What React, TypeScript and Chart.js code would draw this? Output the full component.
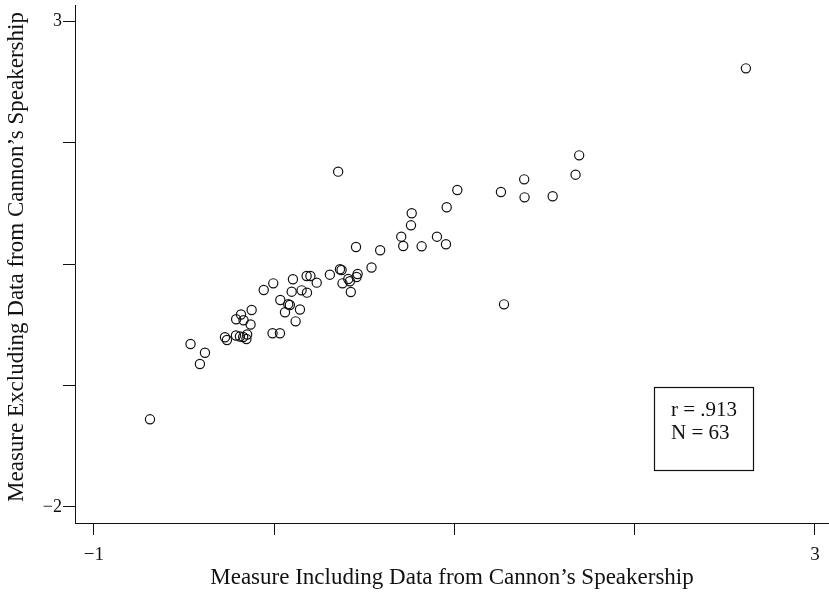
import React, { useEffect, useRef } from 'react';
import { Chart, registerables } from 'chart.js';

Chart.register(...registerables);

// Data
const xValues = [
  -0.689, -0.464, -0.384, -0.412, -0.273, -0.262, -0.212, -0.190, -0.172, -0.150,
  -0.154, -0.211, -0.184, -0.170, -0.131, -0.125, -0.009, 0.032, -0.058, -0.005,
  0.034, 0.060, 0.078, 0.087, 0.143, 0.119, 0.097, 0.104, 0.152, 0.182,
  0.180, 0.201, 0.236, 0.309, 0.365, 0.374, 0.411, 0.379, 0.420, 0.425,
  0.463, 0.457, 0.540, 0.355, 0.454, 0.588, 0.705, 0.716, 0.759, 0.763,
  0.818, 0.903, 0.953, 0.957, 1.016, 1.258, 1.387, 1.389, 1.545, 1.672,
  1.692, 1.275, 2.617,
];
const yValues = [
  -1.098, -0.323, -0.413, -0.529, -0.254, -0.282, -0.236, -0.246, -0.251, -0.225,
  -0.272, -0.069, -0.020, -0.079, -0.122, 0.027, -0.213, -0.213, 0.233, 0.301,
  0.130, 0.004, 0.086, 0.078, 0.032, -0.090, 0.215, 0.343, 0.229, 0.205,
  0.377, 0.377, 0.308, 0.390, 0.446, 0.438, 0.346, 0.301, 0.323, 0.212,
  0.397, 0.366, 0.464, 1.450, 0.675, 0.641, 0.781, 0.685, 0.898, 1.022,
  0.682, 0.781, 0.703, 1.084, 1.261, 1.241, 1.371, 1.186, 1.197, 1.419,
  1.618, 0.085, 2.513,
];

const xTicks = [-1, 0, 1, 2, 3];
const xTickLabels = ['\u22121', '', '', '', '3'];
const yTicks = [3, 1.75, 0.5, -0.75, -2];
const yTickLabels = ['3', '', '', '', '\u22122'];

const xTitle = 'Measure Including Data from Cannon\u2019s Speakership';
const yTitle = 'Measure Excluding Data from Cannon\u2019s Speakership';
const statLines = ['r = .913', 'N = 63'];

// axis ranges and annotation placement
const X_MIN = -1.105;
const X_MAX = 3.078;
const Y_MIN = -2.165;
const Y_MAX = 3.165;
const STAT_BOX_X = [2.107, 2.656];
const STAT_BOX_Y = [-0.765, -1.619];

const SERIF = '"Liberation Serif", "Times New Roman", Times, serif';
const INK = '#111';

function labelFor(ticks: number[], labels: string[], v: number): string {
  const i = ticks.findIndex((t) => Math.abs(t - v) < 1e-6);
  return i >= 0 ? labels[i] : '';
}

const annotationPlugin = {
  id: 'annotations',
  afterDraw(chart: any) {
    const { ctx, scales, chartArea } = chart;
    const x = scales.x;
    const y = scales.y;
    // y-axis title
    ctx.save();
    ctx.fillStyle = INK;
    ctx.font = `23px ${SERIF}`;
    ctx.textAlign = 'center';
    ctx.textBaseline = 'middle';
    ctx.translate(16.5, (chartArea.top + chartArea.bottom) / 2 - 7);
    ctx.rotate(-Math.PI / 2);
    ctx.fillText(yTitle, 0, 0);
    ctx.restore();

    // statistics box
    const l = x.getPixelForValue(STAT_BOX_X[0]);
    const r = x.getPixelForValue(STAT_BOX_X[1]);
    const t = y.getPixelForValue(STAT_BOX_Y[0]);
    const b = y.getPixelForValue(STAT_BOX_Y[1]);
    ctx.save();
    ctx.strokeStyle = INK;
    ctx.lineWidth = 1.2;
    ctx.strokeRect(Math.round(l) + 0.5, Math.round(t) + 0.5, Math.round(r - l), Math.round(b - t));
    ctx.fillStyle = INK;
    ctx.font = `21px ${SERIF}`;
    ctx.textAlign = 'left';
    ctx.textBaseline = 'middle';
    statLines.forEach((s, i) => {
      ctx.fillText(s, l + 17, t + 24 + i * 23);
    });
    ctx.restore();
  },
};

export default function App() {
  const canvasRef = useRef<HTMLCanvasElement | null>(null);

  useEffect(() => {
    document.body.style.margin = '0';
    const canvas = canvasRef.current;
    if (!canvas) return;
    const chart = new Chart(canvas, {
      type: 'scatter',
      data: {
        datasets: [
          {
            data: xValues.map((v, i) => ({ x: v, y: yValues[i] })),
            pointStyle: 'circle',
            pointRadius: 4.6,
            pointBorderWidth: 1.2,
            borderColor: INK,
            backgroundColor: 'rgba(0,0,0,0)',
            pointBackgroundColor: 'rgba(0,0,0,0)',
            pointBorderColor: INK,
          } as any,
        ],
      },
      options: {
        animation: false,
        responsive: false,
        layout: { autoPadding: false, padding: { top: 5, right: 0, left: 0, bottom: 0 } },
        plugins: {
          legend: { display: false },
          tooltip: { enabled: false },
        },
        scales: {
          x: {
            type: 'linear',
            min: X_MIN,
            max: X_MAX,
            afterBuildTicks: (s: any) => {
              s.ticks = xTicks.map((v) => ({ value: v }));
            },
            afterFit: (s: any) => {
              s.height = 69;
              s.paddingRight = 0;
              s.paddingLeft = 0;
            },
            ticks: {
              autoSkip: false,
              maxRotation: 0,
              padding: 0,
              color: INK,
              font: { family: SERIF, size: 19, lineHeight: '41px' },
              callback: (v: any) => labelFor(xTicks, xTickLabels, Number(v)),
            },
            grid: { drawOnChartArea: false, drawTicks: true, tickLength: 12, color: INK, lineWidth: 1 },
            border: { display: true, color: INK, width: 1 },
            title: {
              display: true,
              text: xTitle,
              color: INK,
              font: { family: SERIF, size: 23, lineHeight: 1 },
              padding: { top: 0, bottom: 3 },
            },
          },
          y: {
            type: 'linear',
            min: Y_MIN,
            max: Y_MAX,
            afterBuildTicks: (s: any) => {
              s.ticks = yTicks.map((v) => ({ value: v }));
            },
            afterFit: (s: any) => {
              s.width = 75;
              s.paddingTop = 0;
              s.paddingBottom = 0;
            },
            ticks: {
              autoSkip: false,
              padding: 1,
              color: INK,
              font: { family: SERIF, size: 18, lineHeight: '4px' },
              callback: (v: any) => labelFor(yTicks, yTickLabels, Number(v)),
            },
            grid: { drawOnChartArea: false, drawTicks: true, tickLength: 12, color: INK, lineWidth: 1 },
            border: { display: true, color: INK, width: 1 },
            title: { display: false },
          },
        },
      } as any,
      plugins: [annotationPlugin],
    });
    return () => chart.destroy();
  }, []);

  return (
    <div style={{ position: 'relative', width: 829, height: 592 }}>
      <canvas ref={canvasRef} width={829} height={592} style={{ display: 'block' }} />
    </div>
  );
}
